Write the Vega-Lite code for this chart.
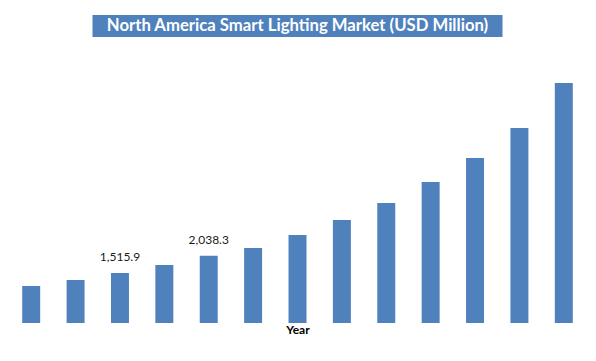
{
  "$schema": "https://vega.github.io/schema/vega-lite/v6.json",
  "padding": {"left": 9, "top": 15, "right": 0, "bottom": 0},
  "background": "white",
  "center": true,
  "spacing": 22,
  "config": {"view": {"stroke": null}, "font": "Lato"},
  "vconcat": [
    {
      "width": 410,
      "height": 22,
      "view": {"fill": "#4F81BD", "stroke": null},
      "data": {"values": [{"t": "North America Smart Lighting Market (USD Million)"}]},
      "mark": {"type": "text", "color": "white", "fontSize": 16.7, "fontWeight": "bold", "align": "center", "baseline": "middle"},
      "encoding": {"text": {"field": "t"}}
    },
    {
      "width": 577,
      "height": 264,
      "data": {"values": [
        {"year": "2014", "value": 1121},
        {"year": "2015", "value": 1303},
        {"year": "2016", "value": 1515.9, "label": "1,515.9"},
        {"year": "2017", "value": 1758},
        {"year": "2018", "value": 2038.3, "label": "2,038.3"},
        {"year": "2019", "value": 2273},
        {"year": "2020", "value": 2667},
        {"year": "2021", "value": 3121},
        {"year": "2022", "value": 3636},
        {"year": "2023", "value": 4273},
        {"year": "2024", "value": 5000},
        {"year": "2025", "value": 5909},
        {"year": "2026", "value": 7273}
      ]},
      "encoding": {
        "x": {"field": "year", "type": "ordinal", "scale": {"paddingInner": 0.595, "paddingOuter": 0.2975},
          "axis": {"title": "Year", "labels": false, "ticks": false, "domain": false, "titleFontSize": 12, "titleFontWeight": "bold", "titleColor": "#000000", "titlePadding": 1, "titleFont": "Lato"}},
        "y": {"field": "value", "type": "quantitative", "scale": {"domain": [0, 8000], "nice": false}, "axis": null}
      },
      "layer": [
        {"mark": {"type": "bar", "color": "#4F81BD"}},
        {
          "transform": [{"filter": "isValid(datum.label)"}],
          "mark": {"type": "text", "fontSize": 12, "color": "#1a1a1a", "baseline": "alphabetic", "dy": -12},
          "encoding": {"text": {"field": "label"}}
        }
      ]
    }
  ]
}
